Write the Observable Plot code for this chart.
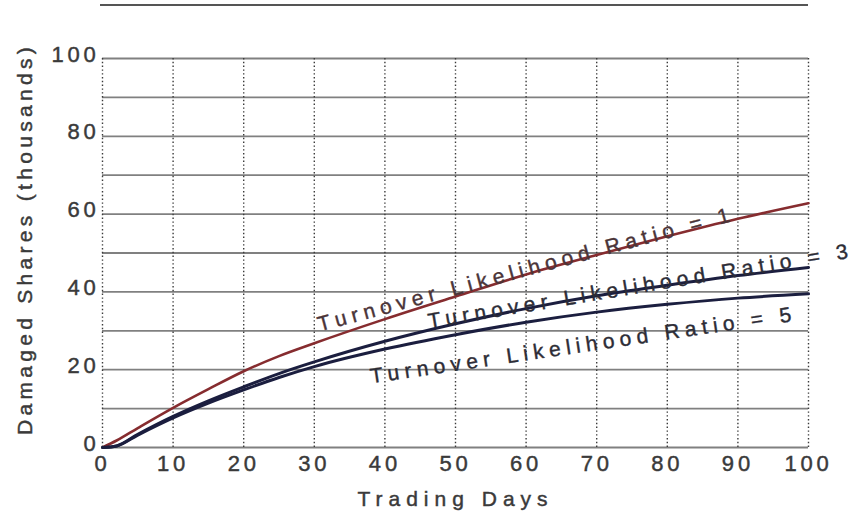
<!DOCTYPE html>
<html>
<head>
<meta charset="utf-8">
<script src="https://cdn.jsdelivr.net/npm/d3@7"></script>
<script src="https://cdn.jsdelivr.net/npm/@observablehq/plot@0.6"></script>
<style>
  html, body { margin: 0; padding: 0; background: #fff; }
  #wrap { position: relative; width: 860px; height: 514px; }
  #toprule { position: absolute; top: 4px; left: 100px; width: 708px; border-top: 2px solid #555; }
  svg text { font-family: "Liberation Sans", Arial, sans-serif; }
  svg g[aria-label="x-axis tick label"] text,
  svg g[aria-label="y-axis tick label"] text { font-size: 22px; letter-spacing: 3.8px; fill: #3a3a3a; stroke: #3a3a3a; stroke-width: 0.45px; }
  svg g[aria-label="x-axis label"] text { font-size: 21px; letter-spacing: 6px; fill: #3a3a3a; stroke: #3a3a3a; stroke-width: 0.45px; }
  svg g.ylab text { letter-spacing: 4.3px; }
  svg g.curvelab text { letter-spacing: 5.4px; }
</style>
</head>
<body>
<div id="wrap"><div id="toprule"></div></div>
<script>
// Data
const days   = [0, 2, 5, 10, 15, 20, 25, 30, 40, 50, 60, 70, 80, 90, 100];
const ratio1 = [0, 1.8, 5, 10.2, 15, 19.6, 23.5, 26.8, 33, 38.8, 44.5, 49.5, 54.3, 58.8, 62.8];
const ratio3 = [0, 0.4, 3.4, 8, 12, 15.6, 19, 22, 27.3, 31.8, 35.7, 39, 41.7, 44.2, 46.3];
const ratio5 = [0, 0.4, 3.2, 7.6, 11.4, 14.8, 18, 20.8, 25.3, 29, 32.2, 34.8, 36.8, 38.4, 39.5];

const seriesNames  = ["Turnover Likelihood Ratio = 1", "Turnover Likelihood Ratio = 3", "Turnover Likelihood Ratio = 5"];
const seriesColors = ["#862c2f", "#1b1e3f", "#1b1e3f"];
const labelColors  = ["#4a3438", "#2c2c36", "#2c2c36"];

const xTicks = [0, 10, 20, 30, 40, 50, 60, 70, 80, 90, 100];
const yTicks = [0, 20, 40, 60, 80, 100];
const yGrid  = [0, 10, 20, 30, 40, 50, 60, 70, 80, 90, 100];

const xTitle = "Trading Days";
const yTitle = "Damaged Shares (thousands)";

// label anchors (data units) and text angles
const labelDays   = [60, 76.2, 68.1];
const labelValues = [45.8, 41.5, 26.3];
const labelAngles = [-15, -9.5, -8.4];

const allSeries = [ratio1, ratio3, ratio5];
const table = [];
allSeries.forEach((vals, i) => days.forEach((d, j) => table.push({day: d, value: vals[j], series: seriesNames[i]})));
const labels = seriesNames.map((s, i) => ({text: s, x: labelDays[i], y: labelValues[i], angle: labelAngles[i], color: labelColors[i]}));

const chart = Plot.plot({
  width: 860,
  height: 514,
  marginLeft: 102,
  marginRight: 52,
  marginTop: 58,
  marginBottom: 67,
  x: {domain: [0, 100]},
  y: {domain: [0, 100]},
  marks: [
    Plot.gridY({ticks: yGrid, stroke: "#808080", strokeOpacity: 1, strokeWidth: 1.8}),
    Plot.gridX({ticks: xTicks, stroke: "#3c3c3c", strokeOpacity: 1, strokeWidth: 1.4, strokeDasharray: "1.4,2.4"}),
    Plot.axisX({ticks: xTicks, tickSize: 0, tickPadding: 8, tickFormat: d => String(d),
      label: xTitle, labelAnchor: "center", labelArrow: "none", labelOffset: 58}),
    Plot.axisY({ticks: yTicks, tickSize: 0, tickPadding: 3, dy: -4, tickFormat: d => String(d), label: null}),
    Plot.text([yTitle], {frameAnchor: "left", textAnchor: "middle", text: d => d, rotate: -90, dx: -77, dy: -14,
      fontSize: 21, fill: "#3a3a3a", stroke: "#3a3a3a", strokeWidth: 0.45, className: "ylab"}),
    ...seriesNames.map((s, i) => Plot.line(table.filter(r => r.series === s), {
      x: "day", y: "value", stroke: seriesColors[i], strokeWidth: i === 0 ? 2.6 : 3, curve: "monotone-x"
    })),
    Plot.text(labels, {x: "x", y: "y", text: "text", rotate: "angle", fill: "color", stroke: "color",
      strokeWidth: 0.4, fontSize: 21, className: "curvelab"})
  ]
});
document.getElementById("wrap").appendChild(chart);
chart.style.position = "absolute";
chart.style.top = "0";
chart.style.left = "0";
</script>
</body>
</html>
